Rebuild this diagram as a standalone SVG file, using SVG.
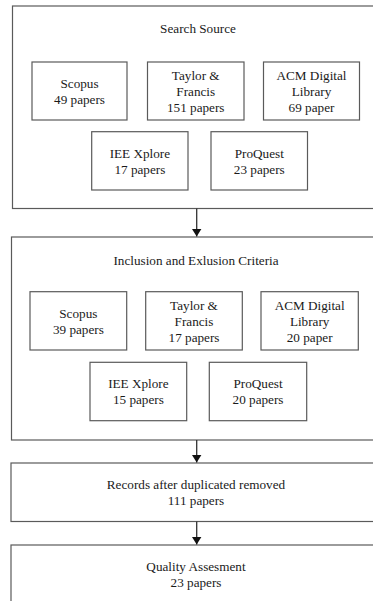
<svg xmlns="http://www.w3.org/2000/svg" width="373" height="601" viewBox="0 0 373 601">
<defs>
<style>
.box{fill:#fff;stroke:#5a5a5a;stroke-width:1.2}
.t{font-family:"Liberation Serif","Times New Roman","DejaVu Serif",serif;font-size:13.2px;fill:#1a1a1a;text-anchor:middle}
.c{stroke:#333;stroke-width:1.3;fill:none}
</style>
<marker id="ah" viewBox="0 0 8 10" refX="8" refY="5" markerWidth="8" markerHeight="10" markerUnits="userSpaceOnUse" orient="auto">
<path d="M0,0 L8,5 L0,10 Z" fill="#111"/>
</marker>
</defs>
<rect width="373" height="601" fill="#fff"/>
<g id="search-source">
<rect class="box" x="12.5" y="6" width="370" height="202.5"/>
<text class="t" x="198" y="32.5">Search Source</text>
</g>
<g id="ss-scopus"><rect class="box" x="32" y="62" width="95" height="58"/>
<text class="t" x="79.5" y="88">Scopus</text><text class="t" x="79.5" y="104">49 papers</text></g>
<g id="ss-taylor"><rect class="box" x="147.5" y="62" width="96.5" height="58"/>
<text class="t" x="195.75" y="80">Taylor &amp;</text><text class="t" x="195.75" y="96">Francis</text><text class="t" x="195.75" y="112">151 papers</text></g>
<g id="ss-acm"><rect class="box" x="263.5" y="62" width="96" height="58"/>
<text class="t" x="311.5" y="80">ACM Digital</text><text class="t" x="311.5" y="96">Library</text><text class="t" x="311.5" y="112">69 paper</text></g>
<g id="ss-iee"><rect class="box" x="91.7" y="131.7" width="96.3" height="58.3"/>
<text class="t" x="139.85" y="158">IEE Xplore</text><text class="t" x="139.85" y="174">17 papers</text></g>
<g id="ss-proquest"><rect class="box" x="211" y="131.7" width="96.5" height="58.3"/>
<text class="t" x="259.25" y="158">ProQuest</text><text class="t" x="259.25" y="174">23 papers</text></g>

<g id="criteria">
<rect class="box" x="11.5" y="237" width="371" height="203"/>
<text class="t" x="196" y="265">Inclusion and Exlusion Criteria</text>
</g>
<g id="ic-scopus"><rect class="box" x="30" y="291.7" width="96.7" height="58.3"/>
<text class="t" x="78.35" y="318">Scopus</text><text class="t" x="78.35" y="334">39 papers</text></g>
<g id="ic-taylor"><rect class="box" x="145.7" y="291.7" width="96.6" height="58.3"/>
<text class="t" x="194" y="310">Taylor &amp;</text><text class="t" x="194" y="326">Francis</text><text class="t" x="194" y="342">17  papers</text></g>
<g id="ic-acm"><rect class="box" x="261" y="291.7" width="97.3" height="58.3"/>
<text class="t" x="309.65" y="310">ACM Digital</text><text class="t" x="309.65" y="326">Library</text><text class="t" x="309.65" y="342">20 paper</text></g>
<g id="ic-iee"><rect class="box" x="90" y="362.3" width="96.7" height="58.4"/>
<text class="t" x="138.35" y="388">IEE Xplore</text><text class="t" x="138.35" y="404">15 papers</text></g>
<g id="ic-proquest"><rect class="box" x="209.3" y="362.3" width="97.4" height="58.4"/>
<text class="t" x="258" y="388">ProQuest</text><text class="t" x="258" y="404">20 papers</text></g>

<g id="records">
<rect class="box" x="11" y="463" width="372" height="58.5"/>
<text class="t" x="196" y="489">Records after duplicated removed</text>
<text class="t" x="196" y="505">111 papers</text>
</g>
<g id="quality">
<rect class="box" x="11" y="545" width="372" height="70"/>
<text class="t" x="196" y="570.5">Quality Assesment</text>
<text class="t" x="196" y="586.5">23 papers</text>
</g>

<g id="connectors">
<line class="c" x1="196.7" y1="208.5" x2="196.7" y2="236.5" marker-end="url(#ah)"/>
<line class="c" x1="196.7" y1="440" x2="196.7" y2="462.5" marker-end="url(#ah)"/>
<line class="c" x1="196.7" y1="521.5" x2="196.7" y2="544.5" marker-end="url(#ah)"/>
</g>
</svg>
